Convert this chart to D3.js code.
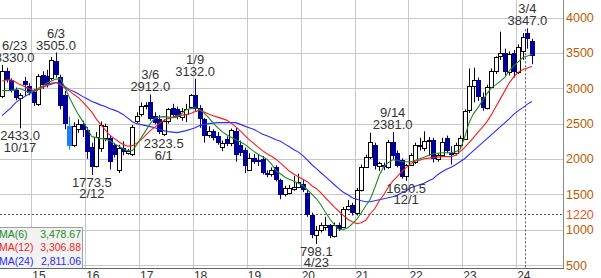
<!DOCTYPE html>
<html>
<head>
<meta charset="utf-8">
<script src="https://cdn.jsdelivr.net/npm/d3@7"></script>
<style>
  body { margin: 0; background: #fff; }
  svg { display: block; }
</style>
</head>
<body>
<div id="chart"></div>
<script>
// Monthly candles, Jun 2014 .. Apr 2024
const months = [
  "2014-06","2014-07","2014-08","2014-09","2014-10","2014-11","2014-12",
  "2015-01","2015-02","2015-03","2015-04","2015-05","2015-06","2015-07","2015-08","2015-09","2015-10","2015-11","2015-12",
  "2016-01","2016-02","2016-03","2016-04","2016-05","2016-06","2016-07","2016-08","2016-09","2016-10","2016-11","2016-12",
  "2017-01","2017-02","2017-03","2017-04","2017-05","2017-06","2017-07","2017-08","2017-09","2017-10","2017-11","2017-12",
  "2018-01","2018-02","2018-03","2018-04","2018-05","2018-06","2018-07","2018-08","2018-09","2018-10","2018-11","2018-12",
  "2019-01","2019-02","2019-03","2019-04","2019-05","2019-06","2019-07","2019-08","2019-09","2019-10","2019-11","2019-12",
  "2020-01","2020-02","2020-03","2020-04","2020-05","2020-06","2020-07","2020-08","2020-09","2020-10","2020-11","2020-12",
  "2021-01","2021-02","2021-03","2021-04","2021-05","2021-06","2021-07","2021-08","2021-09","2021-10","2021-11","2021-12",
  "2022-01","2022-02","2022-03","2022-04","2022-05","2022-06","2022-07","2022-08","2022-09","2022-10","2022-11","2022-12",
  "2023-01","2023-02","2023-03","2023-04","2023-05","2023-06","2023-07","2023-08","2023-09","2023-10","2023-11","2023-12",
  "2024-01","2024-02","2024-03","2024-04"
];
const opens = [
  2890,3250,3110,2980,2860,3100,3030,
  2950,2780,3180,3170,3140,3380,3160,2910,2460,2200,2420,2490,
  2410,2170,1900,2160,2300,2300,2190,1850,2160,2090,2070,2530,
  2640,2750,2800,2610,2570,2350,2530,2720,2700,2600,2640,2740,
  2900,2720,2560,2340,2400,2330,2170,2280,2230,2400,2200,2120,
  1850,2020,1990,2000,1800,1780,1890,1700,1500,1520,1570,1610,
  1650,1520,1210,920,1000,1040,1060,910,1060,1040,1290,1350,
  1230,1560,1890,2030,2200,1900,1920,1880,2240,2080,1990,1760,
  1920,1960,2180,2160,2250,2270,2000,2060,2300,2090,2080,2200,
  2280,2690,3030,3120,2880,2720,3020,3240,3450,3500,3230,3500,
  3230,3520,3780,3670
];
const highs = [
  3330,3290,3140,3010,2930,3160,3070,
  2990,3200,3240,3260,3440,3505,3190,2960,2600,2520,2560,2540,
  2450,2230,2380,2530,2500,2330,2230,2200,2250,2140,2480,2660,
  2800,2800,2912,2660,2620,2560,2720,2780,2740,2720,2780,2920,
  3132,2760,2580,2460,2420,2380,2260,2320,2430,2440,2260,2160,
  2080,2070,2060,2040,1840,1880,1910,1720,1620,1630,1760,1790,
  1700,1560,1240,1050,1100,1180,1080,1100,1100,1320,1420,1380,
  1590,1920,2060,2370,2230,1960,1950,2270,2381,2120,2010,1930,
  2080,2230,2300,2390,2310,2300,2080,2300,2330,2180,2230,2330,
  2700,3280,3290,3150,2940,3050,3280,3450,3800,3560,3520,3540,
  3620,3780,3847,3700
];
const lows = [
  2860,3080,2940,2830,2433,2890,2900,
  2750,2750,2990,3010,3110,3150,2700,2420,2130,2170,2370,2310,
  2000,1773.5,1880,2100,2250,1850,2020,1800,2050,2060,2040,2500,
  2600,2700,2540,2490,2350,2323.5,2500,2590,2560,2540,2520,2720,
  2680,2440,2230,2300,2260,2200,2110,2180,2180,1960,2040,1800,
  1830,1930,1900,1780,1740,1750,1680,1430,1470,1500,1550,1590,
  1530,1180,880,798.1,960,990,880,890,980,1020,1270,1200,
  1200,1540,1870,2000,1850,1830,1840,1860,2000,1880,1720,1690.5,
  1900,1930,2120,2110,2040,1950,1960,2040,2080,1920,2050,2160,
  2270,2650,2800,2820,2680,2700,3000,3200,3400,3180,3180,3150,
  3200,3400,3560,3340
];
const closes = [
  3250,3120,2970,2860,2900,3040,2930,
  2790,3170,3040,3050,3400,3180,2750,2490,2180,2460,2490,2410,
  2100,1890,2310,2480,2460,1950,2060,2160,2100,2110,2450,2610,
  2750,2760,2560,2510,2380,2530,2700,2620,2600,2680,2700,2900,
  2710,2560,2330,2400,2290,2230,2230,2210,2410,2060,2090,1900,
  2020,1960,1950,1800,1770,1840,1700,1490,1590,1590,1610,1670,
  1560,1210,930,1000,1060,1070,910,1060,1010,1290,1340,1230,
  1560,1890,2030,2240,1900,1940,1880,2240,2040,1900,1750,1910,
  2050,2190,2195,2250,2270,2000,2060,2240,2110,2050,2200,2290,
  2680,3030,3120,2880,2720,3020,3240,3440,3500,3230,3490,3230,
  3580,3720,3690,3450
];

// Moving averages
const ma6 = [
  2966,2966,2966,2980,2995,2966,2938,
  2966,2995,3030,3073,3101,3129,3136,3009,2867,2740,2626,2527,
  2428,2315,2301,2287,2280,2258,2216,2180,2145,2117,2117,2202,
  2301,2400,2499,2577,2591,2598,2591,2584,2591,2641,2697,2711,
  2726,2697,2648,2584,2506,2442,2386,2343,2308,2272,2244,2209,
  2159,2110,2067,2032,1996,1926,1834,1791,1742,1713,1685,1657,
  1621,1564,1501,1437,1352,1246,1154,1069,1005,998,1026,1083,
  1147,1239,1338,1430,1593,1770,1890,1947,1989,1982,1961,1961,
  1961,1982,2003,2025,2053,2074,2081,2088,2088,2088,2103,2131,
  2301,2513,2641,2726,2825,2924,3009,3051,3101,3157,3250,3320,
  3377,3434,3455,3479
];
const ma12 = [
  3101,3115,3119,3087,3051,3023,2995,
  2966,2980,3009,3044,3073,3080,3044,3002,2959,2910,2867,2803,
  2733,2662,2563,2485,2407,2336,2287,2244,2202,2180,2188,2223,
  2272,2336,2400,2450,2499,2542,2570,2591,2612,2619,2626,2641,
  2669,2690,2662,2634,2612,2591,2570,2549,2506,2457,2400,2336,
  2272,2223,2166,2117,2074,2039,1996,1940,1883,1826,1784,1749,
  1713,1678,1621,1579,1522,1451,1387,1317,1260,1203,1147,1111,
  1083,1097,1133,1225,1295,1409,1494,1600,1685,1749,1819,1876,
  1933,1968,1982,2003,2011,2018,2025,2032,2032,2032,2053,2103,
  2159,2230,2301,2379,2450,2527,2626,2740,2853,2966,3080,3165,
  3228,3264,3285,3307
];
const ma24 = [
  2612,2669,2726,2796,2839,2881,2917,
  2952,2980,3009,3037,3058,3080,3065,3023,2980,2952,2917,2881,
  2846,2811,2789,2761,2740,2711,2690,2662,2626,2577,2527,2499,
  2485,2471,2457,2442,2421,2400,2386,2379,2372,2386,2400,2421,
  2442,2471,2485,2499,2506,2513,2513,2513,2513,2513,2492,2464,
  2442,2421,2386,2350,2329,2301,2272,2251,2209,2173,2131,2096,
  2046,1982,1918,1862,1805,1749,1692,1635,1579,1529,1494,1451,
  1430,1409,1395,1395,1409,1423,1437,1451,1465,1487,1522,1550,
  1593,1614,1635,1657,1692,1720,1777,1819,1855,1883,1918,1961,
  2003,2060,2117,2173,2230,2287,2343,2400,2457,2513,2570,2634,
  2683,2726,2775,2811
];

const yTicks = [500, 1000, 1500, 2000, 2500, 3000, 3500, 4000];
const refLevel = 1220;
const yearLabels = ["15","16","17","18","19","20","21","22","23","24"];

// high / low annotations: month, date text, price text
const highNotes = [
  { month: "2014-06", date: "6/23", price: "3330.0" },
  { month: "2015-06", date: "6/3", price: "3505.0" },
  { month: "2017-03", date: "3/6", price: "2912.0" },
  { month: "2018-01", date: "1/9", price: "3132.0" },
  { month: "2021-09", date: "9/14", price: "2381.0" },
  { month: "2024-03", date: "3/4", price: "3847.0" }
];
const lowNotes = [
  { month: "2014-10", date: "10/17", price: "2433.0" },
  { month: "2016-02", date: "2/12", price: "1773.5" },
  { month: "2017-06", date: "6/1", price: "2323.5" },
  { month: "2020-04", date: "4/23", price: "798.1" },
  { month: "2021-12", date: "12/1", price: "1690.5" }
];

const maNames = ["MA(6)", "MA(12)", "MA(24)"];
const maLast = ["3,478.67", "3,306.88", "2,811.06"];
const highlightMonth = "2015-09";

// ---- layout ----
const W = 601, H = 278;
const PLOT = { left: 0, right: 563, top: 0, bottom: 268 };
const FONT = "'Liberation Sans', Arial, sans-serif";
const UP_STROKE = "#000";
const DOWN_FILL = "#000099";
const MA_COLORS = ["#1e8a1e", "#ff1a1a", "#2b2bff"];

const svg = d3.select("#chart").append("svg")
  .attr("width", W).attr("height", H)
  .attr("font-family", FONT);

svg.append("rect").attr("width", W).attr("height", H).attr("fill", "#fff");

svg.append("clipPath").attr("id", "plotclip")
  .append("rect")
  .attr("x", PLOT.left).attr("y", PLOT.top)
  .attr("width", PLOT.right - PLOT.left).attr("height", PLOT.bottom - PLOT.top);

const x = d3.scaleLinear().domain([0, months.length - 1]).range([2.1, 531.9]);
const step = x(1) - x(0);
const y = d3.scaleLinear().domain([500, 4000]).range([265, 17.5]);

const data = months.map((m, i) => ({
  i, m, o: opens[i], h: highs[i], l: lows[i], c: closes[i]
}));
const idx = new Map(months.map((m, i) => [m, i]));

const crisp = v => Math.round(v) + 0.5;

// grid
const grid = svg.append("g").attr("clip-path", "url(#plotclip)");
grid.selectAll(".hg").data(yTicks).enter().append("line")
  .attr("x1", PLOT.left).attr("x2", PLOT.right)
  .attr("y1", d => crisp(y(d))).attr("y2", d => crisp(y(d)))
  .attr("stroke", "#c8c8c8").attr("stroke-width", 1);

const yearStarts = yearLabels.map(t => idx.get("20" + t + "-01"));
grid.selectAll(".vg").data(yearStarts).enter().append("line")
  .attr("x1", d => crisp(x(d) - step / 2)).attr("x2", d => crisp(x(d) - step / 2))
  .attr("y1", PLOT.top).attr("y2", PLOT.bottom)
  .attr("stroke", "#c8c8c8").attr("stroke-width", 1);

// reference level (dotted)
grid.append("line")
  .attr("x1", PLOT.left).attr("x2", PLOT.right)
  .attr("y1", crisp(y(refLevel))).attr("y2", crisp(y(refLevel)))
  .attr("stroke", "#555").attr("stroke-dasharray", "2,2");

const plot = svg.append("g").attr("clip-path", "url(#plotclip)");

// dotted marker at the latest high
const lastHighIdx = idx.get("2024-03");
const markX = crisp((x(lastHighIdx) + x(lastHighIdx - 1)) / 2);
plot.append("line")
  .attr("x1", markX).attr("x2", markX)
  .attr("y1", y(highs[lastHighIdx]) + 1).attr("y2", PLOT.bottom)
  .attr("stroke", "#555").attr("stroke-dasharray", "2,2");

// candles
const candles = plot.selectAll(".candle").data(data).enter().append("g");
candles.append("line")
  .attr("x1", d => Math.round(x(d.i)) + 0.5)
  .attr("x2", d => Math.round(x(d.i)) + 0.5)
  .attr("y1", d => y(d.h)).attr("y2", d => y(d.l))
  .attr("stroke", d => d.c >= d.o ? UP_STROKE : (d.m === highlightMonth ? "#1e7cff" : DOWN_FILL))
  .attr("stroke-width", 1);
candles.append("rect")
  .attr("x", d => d.c >= d.o ? Math.round(x(d.i)) - 1.5 : Math.round(x(d.i)) - 2)
  .attr("width", d => d.c >= d.o ? 4 : 5)
  .attr("y", d => d.c >= d.o ? Math.round(y(d.c)) + 0.5 : Math.round(y(d.o)))
  .attr("height", d => Math.max(1, Math.abs(Math.round(y(d.o)) - Math.round(y(d.c)))))
  .attr("fill", d => d.c >= d.o ? "#fff" : (d.m === highlightMonth ? "#1e7cff" : DOWN_FILL))
  .attr("stroke", d => d.c >= d.o ? UP_STROKE : "none")
  .attr("stroke-width", 1);

// moving averages
[ma24, ma12, ma6].forEach((arr, k) => {
  const line = d3.line().x((d, i) => x(i)).y(d => y(d));
  plot.append("path")
    .attr("d", line(arr))
    .attr("fill", "none")
    .attr("stroke", MA_COLORS[2 - k])
    .attr("stroke-width", 1.1);
});

// high / low notes
const notes = svg.append("g").attr("clip-path", "url(#plotclip)")
  .attr("font-size", 13).attr("fill", "#333");
highNotes.forEach(n => {
  const i = idx.get(n.month);
  const g = notes.append("g");
  const t1 = g.append("text").attr("text-anchor", "middle").attr("y", y(highs[i]) - 15).text(n.date);
  g.append("text").attr("text-anchor", "middle").attr("y", y(highs[i]) - 3).text(n.price);
  const w = t1.node().getComputedTextLength();
  const cx = Math.max(x(i), w / 2 + 2);
  g.selectAll("text").attr("x", cx);
});
lowNotes.forEach(n => {
  const i = idx.get(n.month);
  notes.append("text").attr("text-anchor", "middle").attr("x", x(i)).attr("y", y(lows[i]) + 12).text(n.price);
  notes.append("text").attr("text-anchor", "middle").attr("x", x(i)).attr("y", y(lows[i]) + 23.5).text(n.date);
});

// legend box
const lg = svg.append("g");
lg.append("rect")
  .attr("x", -1.5).attr("y", 227.5).attr("width", 84).attr("height", 41)
  .attr("fill", "#f2f2f2").attr("stroke", "#a0a0a0");
maNames.forEach((name, k) => {
  const by = 237.5 + k * 13.5;
  lg.append("text").attr("x", -1).attr("y", by).attr("font-size", 10.5)
    .attr("fill", MA_COLORS[k]).text(name);
  lg.append("text").attr("x", 81).attr("y", by).attr("font-size", 10.5)
    .attr("text-anchor", "end").attr("fill", MA_COLORS[k]).text(maLast[k]);
});

// frame
svg.append("line")
  .attr("x1", PLOT.right + 0.5).attr("x2", PLOT.right + 0.5)
  .attr("y1", PLOT.top).attr("y2", PLOT.bottom)
  .attr("stroke", "#888");
svg.append("line")
  .attr("x1", PLOT.left).attr("x2", PLOT.right + 1)
  .attr("y1", PLOT.bottom + 0.5).attr("y2", PLOT.bottom + 0.5)
  .attr("stroke", "#666");

// y axis labels
svg.selectAll(".yl").data(yTicks).enter().append("text")
  .attr("x", PLOT.right + 3).attr("y", d => y(d))
  .attr("dy", "0.36em").attr("font-size", 12.5)
  .attr("fill", "#c05a00").text(d => d);
svg.append("text")
  .attr("x", PLOT.right + 3).attr("y", y(refLevel))
  .attr("dy", "0.36em").attr("font-size", 12.5)
  .attr("fill", "#f2501e").text(refLevel);

// x axis year labels
svg.selectAll(".xl").data(yearLabels).enter().append("text")
  .attr("x", (d, k) => x(yearStarts[k]) - step / 2 + 1)
  .attr("y", 280).attr("font-size", 12)
  .attr("fill", "#333").text(d => d);
</script>
</body>
</html>
